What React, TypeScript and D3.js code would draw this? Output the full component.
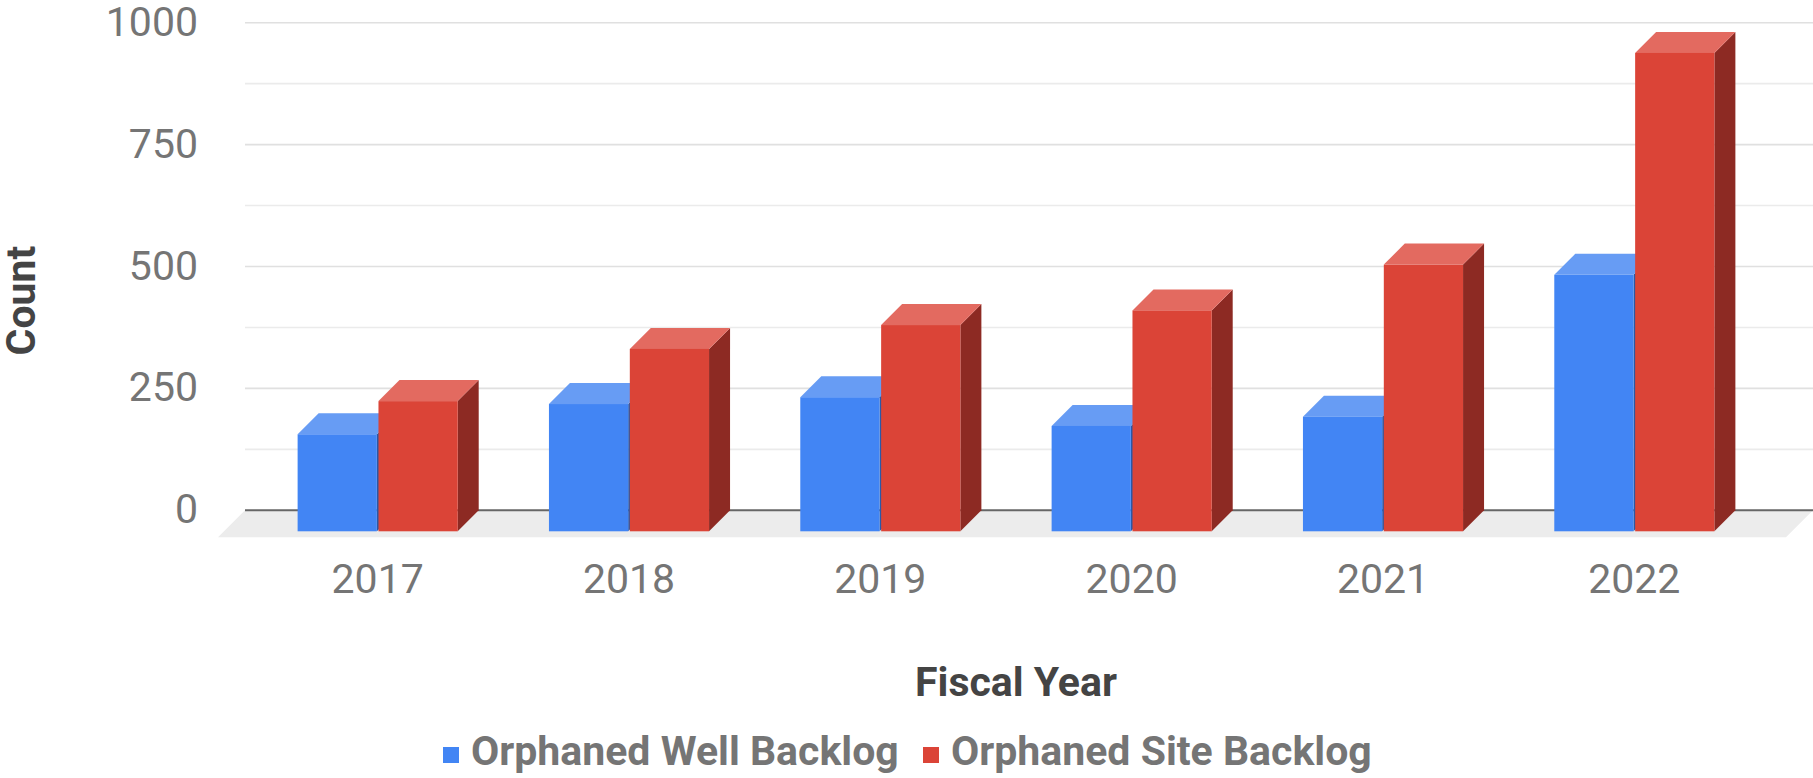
import React from "react";
import * as d3 from "d3";

const years = ["2017", "2018", "2019", "2020", "2021", "2022"];
const seriesNames = ["Orphaned Well Backlog", "Orphaned Site Backlog"];
const wellBacklog = [199, 261, 275, 216, 235, 526];
const siteBacklog = [267, 374, 423, 453, 547, 981];
const yTicks = [0, 250, 500, 750, 1000];
const minorTicks = [125, 375, 625, 875];

const W = 1813;
const H = 778;
const FONT = "Roboto, 'Noto Sans', sans-serif";

const faceColors = [
  { front: "#4285F4", top: "#679CF4", side: "#2B58A6" },
  { front: "#DB4437", top: "#E36A60", side: "#8D2A23" },
];

export default function App() {
  const backLeft = 245;
  const backRight = 1813;
  const D = 21; // bar depth offset
  const FD = 27; // floor depth

  const y = d3.scaleLinear().domain([0, 1000]).range([510.3, 22.7]);
  const x0 = d3
    .scaleBand<string>()
    .domain(years)
    .range([252, 1760])
    .paddingInner(0.363)
    .paddingOuter(0.1815);
  const x1 = d3
    .scaleBand<string>()
    .domain(seriesNames)
    .range([0, x0.bandwidth()])
    .paddingInner(0.02);

  const data = [wellBacklog, siteBacklog];
  const y0 = y(0);

  const bars: React.ReactNode[] = [];
  years.forEach((yr, i) => {
    seriesNames.forEach((s, j) => {
      const v = data[j][i];
      const xl = (x0(yr) as number) + (x1(s) as number);
      const xr = xl + x1.bandwidth();
      const yt = y(v) + D;
      const yb = y0 + D;
      const c = faceColors[j];
      bars.push(
        <g key={yr + s}>
          <polygon
            points={`${xr},${yt} ${xr + D},${yt - D} ${xr + D},${yb - D} ${xr},${yb}`}
            fill={c.side}
          />
          <polygon
            points={`${xl},${yt} ${xl + D},${yt - D} ${xr + D},${yt - D} ${xr},${yt}`}
            fill={c.top}
          />
          <rect x={xl} y={yt} width={xr - xl} height={yb - yt} fill={c.front} />
        </g>
      );
    });
  });

  return (
    <svg
      width={W}
      height={H}
      style={{ position: "absolute", left: 0, top: 0, background: "#fff" }}
      fontFamily={FONT}
    >
      {/* floor */}
      <polygon
        points={`${backLeft},${y0} ${backRight},${y0} ${backRight - FD},${y0 + FD} ${backLeft - FD},${y0 + FD}`}
        fill="#ececec"
      />
      {/* minor gridlines */}
      {minorTicks.map((t) => (
        <line
          key={"m" + t}
          x1={backLeft}
          x2={backRight}
          y1={y(t)}
          y2={y(t)}
          stroke="#ebebeb"
          strokeWidth={1.6}
        />
      ))}
      {/* major gridlines */}
      {yTicks
        .filter((t) => t !== 0)
        .map((t) => (
          <line
            key={"g" + t}
            x1={backLeft}
            x2={backRight}
            y1={y(t)}
            y2={y(t)}
            stroke="#e0e0e0"
            strokeWidth={1.6}
          />
        ))}
      {/* baseline */}
      <line x1={backLeft} x2={backRight} y1={y0} y2={y0} stroke="#666666" strokeWidth={2} />
      {/* tick labels */}
      {yTicks.map((t) => (
        <text
          key={"t" + t}
          x={198}
          y={y(t) + 13}
          textAnchor="end"
          fontSize={41}
          fill="#757575"
        >
          {t}
        </text>
      ))}
      {bars}
      {/* x labels */}
      {years.map((yr) => (
        <text
          key={"x" + yr}
          x={(x0(yr) as number) + x0.bandwidth() / 2}
          y={592.7}
          textAnchor="middle"
          fontSize={41}
          fill="#757575"
        >
          {yr}
        </text>
      ))}
      {/* axis titles */}
      <text
        x={1016}
        y={696}
        textAnchor="middle"
        fontSize={41}
        fontWeight="bold"
        fill="#444444"
      >
        Fiscal Year
      </text>
      <text
        transform="translate(35,300.5) rotate(-90)"
        textAnchor="middle"
        fontSize={41}
        fontWeight="bold"
        fill="#444444"
      >
        Count
      </text>
      {/* legend */}
      <rect x={443} y={747} width={16} height={16} fill={faceColors[0].front} />
      <text x={471} y={765} fontSize={41} fontWeight="bold" fill="#757575">
        {seriesNames[0]}
      </text>
      <rect x={923} y={747} width={16} height={16} fill={faceColors[1].front} />
      <text x={951} y={765} fontSize={41} fontWeight="bold" fill="#757575">
        {seriesNames[1]}
      </text>
    </svg>
  );
}
